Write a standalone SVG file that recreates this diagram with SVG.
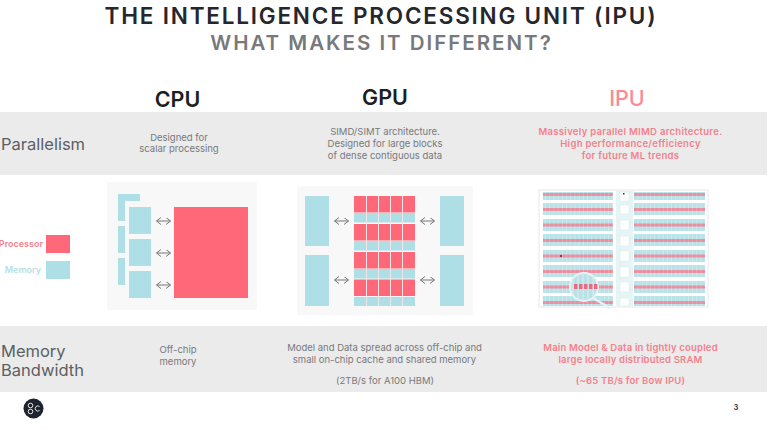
<svg xmlns="http://www.w3.org/2000/svg" width="774" height="429" viewBox="0 0 774 429">
<style>
text{font-family:Inter,"Liberation Sans",sans-serif}
.mem{fill:#aedfe6}.pro{fill:#fe6878}.panel{fill:#f9f8f9}.band{fill:#ebebeb}
.hd{font-size:21.500px;font-weight:600;text-anchor:middle;fill:#1c1e24}
.rl{font-size:16.500px;fill:#5c5f63}
.b{font-size:9.500px;text-anchor:middle;fill:#77797c}
.r{font-size:9.500px;font-weight:600;text-anchor:middle;fill:#f5808c;letter-spacing:.3px}
.arr{fill:none;stroke:#777;stroke-width:1}
</style>
<defs>
<marker id="ah" markerWidth="6" markerHeight="8" refX="4.500" refY="3.500" orient="auto-start-reverse" markerUnits="userSpaceOnUse"><path d="M0 0L4.500 3.500L0 7" fill="none" stroke="#777" stroke-width="1"/></marker>
<pattern id="cells" width="4.200" height="16" patternUnits="userSpaceOnUse"><rect width="4.200" height="16" fill="#b8e2e8"/><rect x="3.400" width=".8" height="16" fill="#d2ebee"/></pattern>
<pattern id="redcells" width="4.200" height="16" patternUnits="userSpaceOnUse"><rect width="4.200" height="16" fill="#ea8ea0"/><rect x="3.400" width=".8" height="16" fill="#eca5b2"/></pattern>
<clipPath id="lens"><circle cx="584" cy="287" r="14"/></clipPath>
</defs>
<rect width="774" height="429" fill="#fff"/>
<g id="title">
<text x="381" y="24" text-anchor="middle" font-size="22.500" font-weight="600" letter-spacing="1.800" fill="#25272c">THE INTELLIGENCE PROCESSING UNIT (IPU)</text>
<text x="381.500" y="50" text-anchor="middle" font-size="20.500" font-weight="600" letter-spacing="2" fill="#77797b">WHAT MAKES IT DIFFERENT?</text>
</g>
<g id="headers">
<text class="hd" x="177.500" y="107">CPU</text>
<text class="hd" x="385" y="105">GPU</text>
<text class="hd" x="627" y="106" style="fill:#fb8a96;font-weight:500">IPU</text>
</g>
<g id="row-parallelism">
<rect class="band" y="112" width="767" height="63"/>
<text class="rl" x="1" y="150">Parallelism</text>
<text class="b" x="179" y="141">Designed for</text>
<text class="b" x="179" y="152">scalar processing</text>
<text class="b" x="385" y="135">SIMD/SIMT architecture.</text>
<text class="b" x="385" y="147">Designed for large blocks</text>
<text class="b" x="385" y="159">of dense contiguous data</text>
<text class="r" x="630.500" y="135">Massively parallel MIMD architecture.</text>
<text class="r" x="630.500" y="147">High performance/efficiency</text>
<text class="r" x="630.500" y="159">for future ML trends</text>
</g>
<g id="legend">
<text x="43" y="247" text-anchor="end" font-size="9" font-weight="600" fill="#f5808c">Processor</text>
<rect class="pro" x="46" y="235" width="24" height="18"/>
<text x="41" y="273" text-anchor="end" font-size="9" font-weight="600" fill="#b5e0e7">Memory</text>
<rect class="mem" x="46" y="261" width="24" height="18"/>
</g>
<g id="cpu">
<rect class="panel" x="107" y="182" width="150" height="128"/>
<path class="mem" d="M118 194H140V201H125V221H118Z"/>
<rect class="mem" x="118" y="226" width="7" height="27"/>
<rect class="mem" x="118" y="258" width="7" height="27"/>
<rect class="mem" x="129" y="207" width="22" height="27"/>
<rect class="mem" x="129" y="239" width="22" height="27"/>
<rect class="mem" x="129" y="271" width="22" height="27"/>
<rect class="pro" x="174" y="207" width="74" height="91"/>
</g>
<g id="gpu">
<rect class="panel" x="297" y="186" width="176" height="129"/>
<rect class="mem" x="305" y="196" width="24" height="50"/>
<rect class="mem" x="305" y="255" width="24" height="51"/>
<rect class="mem" x="440" y="196" width="24" height="50"/>
<rect class="mem" x="440" y="255" width="24" height="51"/>
<rect class="pro" x="354" y="196" width="61" height="16.500"/>
<rect class="mem" x="354" y="213" width="61" height="9.500"/>
<rect class="pro" x="354" y="224" width="61" height="16.500"/>
<rect class="mem" x="354" y="241" width="61" height="9.500"/>
<rect class="pro" x="354" y="252" width="61" height="16.500"/>
<rect class="mem" x="354" y="269" width="61" height="9.500"/>
<rect class="pro" x="354" y="279.500" width="61" height="16.500"/>
<rect class="mem" x="354" y="297" width="61" height="9"/>
<path d="M366.500 196V306M378.500 196V306M390.500 196V306M402.500 196V306" stroke="#f0e6e8" stroke-width="1" fill="none"/>
</g>
<g id="ipu">
<rect x="539" y="190" width="169" height="117" fill="#fff" stroke="#e8e8ea" stroke-width="1"/>
<rect x="616" y="191" width="17" height="115" fill="#e6f4f6"/>
<g fill="#fff" stroke="#d6edf0" stroke-width=".6">
<rect x="620" y="192" width="9" height="9"/><rect x="620" y="205" width="9" height="9"/><rect x="620" y="220" width="9" height="10"/><rect x="620" y="236" width="9" height="10"/><rect x="620" y="251" width="9" height="10"/><rect x="620" y="267" width="9" height="10"/><rect x="620" y="282" width="9" height="10"/><rect x="620" y="298" width="9" height="8"/>
</g>
<rect x="623" y="193" width="1.500" height="1.500" fill="#333"/>
<g fill="url(#cells)">
<rect x="543" y="192" width="70" height="8"/><rect x="634" y="192" width="71" height="8"/>
<rect x="543" y="203" width="70" height="12"/><rect x="634" y="203" width="71" height="12"/>
<rect x="543" y="219" width="70" height="12"/><rect x="634" y="219" width="71" height="12"/>
<rect x="543" y="234" width="70" height="12"/><rect x="634" y="234" width="71" height="12"/>
<rect x="543" y="250" width="70" height="12"/><rect x="634" y="250" width="71" height="12"/>
<rect x="543" y="265" width="70" height="12"/><rect x="634" y="265" width="71" height="12"/>
<rect x="543" y="281" width="70" height="12"/><rect x="634" y="281" width="71" height="12"/>
<rect x="543" y="296" width="70" height="10"/><rect x="634" y="296" width="71" height="10"/>
</g>
<g fill="url(#redcells)">
<rect x="543" y="193" width="70" height="3"/><rect x="634" y="193" width="71" height="3"/>
<rect x="543" y="208" width="70" height="3"/><rect x="634" y="208" width="71" height="3"/>
<rect x="543" y="223.500" width="70" height="3"/><rect x="634" y="223.500" width="71" height="3"/>
<rect x="543" y="239" width="70" height="3"/><rect x="634" y="239" width="71" height="3"/>
<rect x="543" y="254.500" width="70" height="3"/><rect x="634" y="254.500" width="71" height="3"/>
<rect x="543" y="270" width="70" height="3"/><rect x="634" y="270" width="71" height="3"/>
<rect x="543" y="285.500" width="70" height="3"/><rect x="634" y="285.500" width="71" height="3"/>
<rect x="543" y="301" width="70" height="3"/><rect x="634" y="301" width="71" height="3"/>
</g>
<rect x="560" y="255" width="2" height="2" fill="#8a3a50"/>
<path d="M593 298L610 308" stroke="#e3f3f5" stroke-width="2.500" fill="none"/>
<circle cx="584" cy="287" r="14" fill="#b8e2e8" stroke="#e6f4f6" stroke-width="2"/>
<g clip-path="url(#lens)">
<path d="M573 273V301M578 273V301M583 273V301M588 273V301M593 273V301" stroke="#d9eef1" stroke-width="1"/>
<g fill="#ec6a7e">
<rect x="574" y="284" width="3.500" height="5"/><rect x="579" y="284" width="3.500" height="5"/><rect x="584" y="284" width="3.500" height="5"/><rect x="589" y="284" width="3.500" height="5"/><rect x="594" y="284" width="3.500" height="5"/>
</g>
</g>
</g>
<g id="connectors">
<g class="arr">
<path d="M156.500 221H170.500" marker-start="url(#ah)" marker-end="url(#ah)"/>
<path d="M156.500 253H170.500" marker-start="url(#ah)" marker-end="url(#ah)"/>
<path d="M156.500 285H170.500" marker-start="url(#ah)" marker-end="url(#ah)"/>
<path d="M334.500 221H348.500" marker-start="url(#ah)" marker-end="url(#ah)"/>
<path d="M334.500 280H348.500" marker-start="url(#ah)" marker-end="url(#ah)"/>
<path d="M420.500 221H434.500" marker-start="url(#ah)" marker-end="url(#ah)"/>
<path d="M420.500 280H434.500" marker-start="url(#ah)" marker-end="url(#ah)"/>
</g>
</g>
<g id="row-memory">
<rect class="band" y="326" width="767" height="66"/>
<text class="rl" x="1" y="357">Memory</text>
<text class="rl" x="1" y="376">Bandwidth</text>
<text class="b" x="178" y="353">Off-chip</text>
<text class="b" x="178" y="365">memory</text>
<text class="b" x="384.500" y="351">Model and Data spread across off-chip and</text>
<text class="b" x="384.500" y="363">small on-chip cache and shared memory</text>
<text class="b" x="385" y="384">(2TB/s for A100 HBM)</text>
<text class="r" x="630.500" y="351" style="letter-spacing:.2px">Main Model &amp; Data in tightly coupled</text>
<text class="r" x="630.500" y="363" style="letter-spacing:.2px">large locally distributed SRAM</text>
<text class="r" x="630.500" y="384" style="letter-spacing:.2px">(~65 TB/s for Bow IPU)</text>
</g>
<g id="logo">
<circle cx="33.500" cy="408.500" r="10" fill="#1d2430"/>
<circle cx="30.500" cy="405.500" r="2.300" fill="none" stroke="#e8e8e8" stroke-width="1"/>
<circle cx="30.500" cy="411.500" r="2.300" fill="none" stroke="#e8e8e8" stroke-width="1"/>
<path d="M39.500 406.500A2.600 2.600 0 1 0 39.500 410.500" fill="none" stroke="#e8e8e8" stroke-width="1"/>
</g>
<text id="page" x="736" y="410" text-anchor="middle" font-size="7" font-weight="700" fill="#33363a">3</text>
</svg>
